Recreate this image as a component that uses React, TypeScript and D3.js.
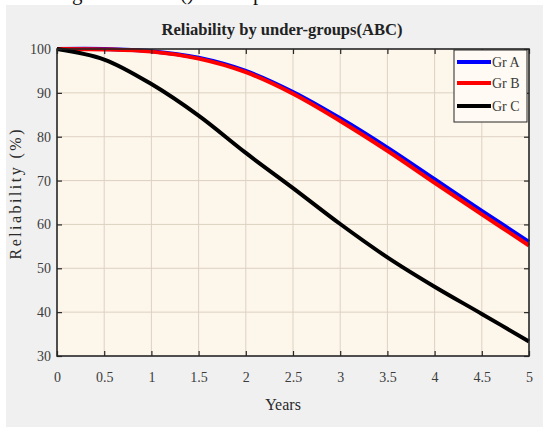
import React, { useEffect, useRef } from "react";
import * as d3 from "d3";

// values
const years = [0, 0.5, 1, 1.5, 2, 2.5, 3, 3.5, 4, 4.5, 5];
const grA = [100, 100, 99.5, 98.0, 95.0, 90.2, 84.2, 77.5, 70.3, 63.1, 56.0];
const grB = [100, 99.9, 99.4, 97.8, 94.7, 89.8, 83.6, 76.8, 69.5, 62.3, 55.2];
const grC = [100, 97.6, 92.0, 84.8, 76.3, 68.3, 60.1, 52.5, 45.8, 39.6, 33.3];

const seriesNames = ["Gr A", "Gr B", "Gr C"];
const seriesValues = [grA, grB, grC];
const seriesColors = ["#0000ff", "#ff0000", "#000000"];

const xTicks = [0, 0.5, 1, 1.5, 2, 2.5, 3, 3.5, 4, 4.5, 5];
const yTicks = [30, 40, 50, 60, 70, 80, 90, 100];

const W = 543;
const H = 428;
const plot = { left: 57, right: 529, top: 49, bottom: 356 };
const serif = "'Liberation Serif', 'Times New Roman', serif";

const App = () => {
  const svgRef = useRef<SVGSVGElement>(null);

  useEffect(() => {
    const svg = d3.select(svgRef.current);
    svg.selectAll("*").remove();

    const x = d3.scaleLinear().domain([0, 5]).range([plot.left, plot.right]);
    const y = d3.scaleLinear().domain([30, 100]).range([plot.bottom, plot.top]);

    // page strip (caption of the page above, cut off in the reference) + gray figure panel
    svg.append("rect").attr("width", W).attr("height", H).attr("fill", "#ffffff");
    const strip = svg.append("g").attr("font-family", serif).attr("font-size", 21).attr("fill", "#111");
    strip.append("text").attr("x", 72).attr("y", 0).text("g");
    strip.append("text").attr("x", 180).attr("y", 0).text("()");
    strip.append("text").attr("x", 253).attr("y", 0).text("p");
    svg.append("rect").attr("x", 6).attr("y", 5).attr("width", W - 6).attr("height", 422).attr("fill", "#f0f0f0");

    // plot background
    svg
      .append("rect")
      .attr("x", plot.left)
      .attr("y", plot.top)
      .attr("width", plot.right - plot.left)
      .attr("height", plot.bottom - plot.top)
      .attr("fill", "#fdf6eb");

    // grid
    svg
      .append("g")
      .selectAll("line")
      .data(xTicks.slice(1, -1))
      .join("line")
      .attr("x1", d => x(d))
      .attr("x2", d => x(d))
      .attr("y1", plot.top)
      .attr("y2", plot.bottom)
      .attr("stroke", "#ddd2c2")
      .attr("stroke-width", 1);
    svg
      .append("g")
      .selectAll("line")
      .data(yTicks.slice(1, -1))
      .join("line")
      .attr("x1", plot.left)
      .attr("x2", plot.right)
      .attr("y1", d => y(d))
      .attr("y2", d => y(d))
      .attr("stroke", "#ddd2c2")
      .attr("stroke-width", 1);

    // lines
    const line = d3
      .line<number>()
      .x((d, i) => x(years[i]))
      .y(d => y(d))
      .curve(d3.curveCatmullRom.alpha(0.5));

    svg
      .append("g")
      .selectAll("path")
      .data(seriesValues)
      .join("path")
      .attr("d", d => line(d))
      .attr("fill", "none")
      .attr("stroke", (d, i) => seriesColors[i])
      .attr("stroke-width", 4)
      .attr("stroke-linejoin", "round");

    // axes
    const axisColor = "#262626";
    const styleAxis = (g: any) => {
      g.select(".domain").remove();
      g.selectAll(".tick line").attr("stroke", axisColor).attr("stroke-width", 1.2);
      g.selectAll(".tick text")
        .attr("fill", "#3c3c3c")
        .attr("font-family", serif)
        .attr("font-size", 14);
    };

    svg
      .append("g")
      .attr("transform", `translate(0,${plot.bottom})`)
      .call(d3.axisBottom(x).tickValues(xTicks).tickSize(-5).tickPadding(16).tickFormat(d => String(d)))
      .call(styleAxis);
    svg
      .append("g")
      .attr("transform", `translate(${plot.left},0)`)
      .call(d3.axisLeft(y).tickValues(yTicks).tickSize(-5).tickPadding(6).tickFormat(d => String(d)))
      .call(styleAxis);
    svg
      .append("g")
      .attr("transform", `translate(0,${plot.top})`)
      .call(d3.axisTop(x).tickValues(xTicks).tickSize(-5).tickFormat(() => ""))
      .call(styleAxis);
    svg
      .append("g")
      .attr("transform", `translate(${plot.right},0)`)
      .call(d3.axisRight(y).tickValues(yTicks).tickSize(-5).tickFormat(() => ""))
      .call(styleAxis);

    svg
      .append("rect")
      .attr("x", plot.left)
      .attr("y", plot.top)
      .attr("width", plot.right - plot.left)
      .attr("height", plot.bottom - plot.top)
      .attr("fill", "none")
      .attr("stroke", axisColor)
      .attr("stroke-width", 1.6);

    // title + axis labels
    svg
      .append("text")
      .attr("x", 282)
      .attr("y", 35)
      .attr("text-anchor", "middle")
      .attr("font-family", serif)
      .attr("font-weight", "bold")
      .attr("font-size", 16)
      .attr("textLength", 241)
      .attr("lengthAdjust", "spacingAndGlyphs")
      .attr("fill", "#222")
      .text("Reliability by under-groups(ABC)");

    svg
      .append("text")
      .attr("x", 283)
      .attr("y", 410)
      .attr("text-anchor", "middle")
      .attr("font-family", serif)
      .attr("font-size", 16)
      .attr("fill", "#2a2a2a")
      .text("Years");

    svg
      .append("text")
      .attr("transform", `translate(21,${(plot.top + plot.bottom) / 2 - 8}) rotate(-90)`)
      .attr("text-anchor", "middle")
      .attr("font-family", serif)
      .attr("font-size", 16)
      .attr("textLength", 130)
      .attr("lengthAdjust", "spacing")
      .attr("fill", "#2a2a2a")
      .text("Reliability (%)");

    // legend
    const legend = svg.append("g");
    legend
      .append("rect")
      .attr("x", 454)
      .attr("y", 50)
      .attr("width", 73)
      .attr("height", 72)
      .attr("fill", "#fffaf3")
      .attr("stroke", axisColor)
      .attr("stroke-width", 1);
    const rowY = [62, 83, 106];
    const rows = legend
      .selectAll("g.row")
      .data(seriesNames)
      .join("g")
      .attr("class", "row")
      .attr("transform", (d, i) => `translate(0,${rowY[i]})`);
    rows
      .append("line")
      .attr("x1", 457)
      .attr("x2", 491)
      .attr("stroke", (d, i) => seriesColors[i])
      .attr("stroke-width", 4);
    rows
      .append("text")
      .attr("x", 492)
      .attr("y", 4.5)
      .attr("font-family", serif)
      .attr("font-size", 14)
      .attr("fill", "#3a3a3a")
      .text(d => d);
  }, []);

  return (
    <svg
      ref={svgRef}
      width={W}
      height={H}
      style={{ position: "absolute", left: 0, top: 0, display: "block" }}
    />
  );
};

export default App;
